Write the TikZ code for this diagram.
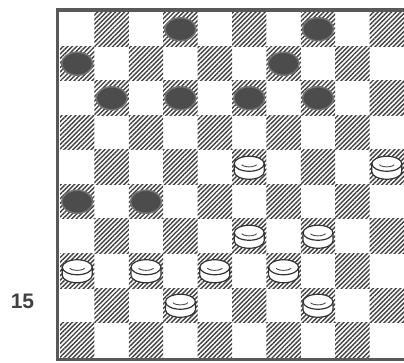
\documentclass[tikz,border=0pt]{standalone}
\usepackage{fontspec}
\setmainfont{Liberation Sans}
\usetikzlibrary{patterns.meta, shapes.geometric}
\tikzset{
    darksq/.style = {pattern={Lines[angle=45, distance=3.2pt, line width=1.4pt]}, pattern color=black!75},
    frame/.style = {draw=black!65, line width=3.5pt},
    blackman/.style = {ellipse, minimum width=31pt, minimum height=23pt, inner sep=0pt, fill=black!70, draw=black!55, line width=1.5pt},
    whiteman/.pic = {
        \fill[white] (-15pt,3.5pt) -- (-15pt,-4.5pt) arc[start angle=180, end angle=360, x radius=15pt, y radius=7.5pt] -- (15pt,3.5pt) arc[start angle=0, end angle=180, x radius=15pt, y radius=7.5pt] -- cycle;
        \draw[line width=1.2pt, black!80] (0,3.5pt) ellipse [x radius=15pt, y radius=7.5pt];
        \draw[line width=1.2pt, black!80] (-15pt,3.5pt) -- (-15pt,-4.5pt) arc[start angle=180, end angle=360, x radius=15pt, y radius=7.5pt] -- (15pt,3.5pt);
        \draw[line width=0.9pt, black!70] (-7.5pt,2.5pt) arc[start angle=200, end angle=340, x radius=8pt, y radius=3.2pt];
    },
    lbl/.style = {text=black!75, font=\fontsize{21}{21}\selectfont\bfseries}
}
\begin{document}
\begin{tikzpicture}[x=1pt, y=-1pt]
\useasboundingbox (0,0) rectangle (404,363);
\clip (0,0) rectangle (404,363);
\fill[white] (0,0) rectangle (404,363);

% board squares
\foreach \r in {1,...,10}
  \foreach \c in {1,...,10} {
    \pgfmathtruncatemacro\s{\r+\c}
    \ifodd\s
      \path[darksq] ({60+34.4*(\c-1)},{12+34.5*(\r-1)}) rectangle ++(34.4,34.5);
    \fi
  }
\draw[frame] (57.5,10) rectangle (410,359.5);

% black men (row/column)
\foreach \r/\c in {1/4, 1/8, 2/1, 2/7, 3/2, 3/4, 3/6, 3/8, 6/1, 6/3}
  \node (b-\r-\c) [blackman] at ({60+34.4*(\c-0.5)},{12+34.5*(\r-0.5)}) {};

% white men (row/column)
\foreach \r/\c in {5/6, 5/10, 7/6, 7/8, 8/1, 8/3, 8/5, 8/7, 9/4, 9/8}
  \pic (w-\r-\c) at ({60+34.4*(\c-0.5)},{12+34.5*(\r-0.5)}) {whiteman};

\node (num) [lbl] at (22.5,301.5) {15};
\end{tikzpicture}
\end{document}
